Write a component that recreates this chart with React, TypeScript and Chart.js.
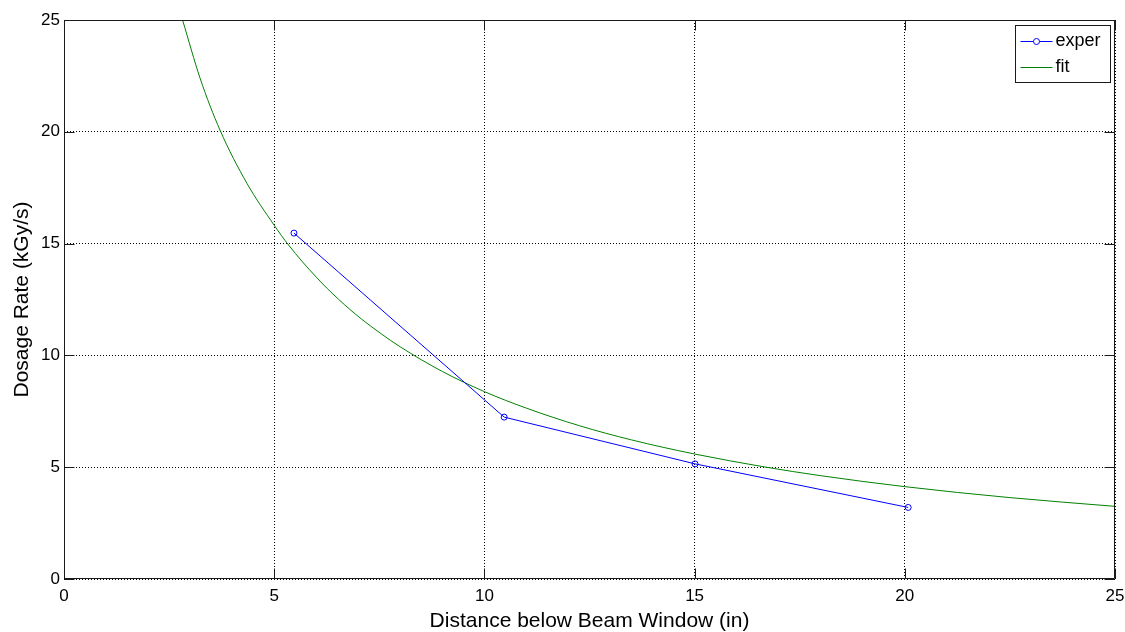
import { useEffect, useRef } from 'react';
import { Chart, registerables } from 'chart.js';

Chart.register(...registerables);

// ---- data ----
const experX = [5.47, 10.47, 15.01, 20.08];
const experY = [15.47, 7.24, 5.15, 3.2];

const fitX = [2.82, 3.24, 3.71, 4.35, 5.0, 5.34, 6.0, 6.53, 7.08, 7.52, 8.0, 9.0, 10.0, 11.0, 12.27, 13.5, 15.0, 16.67, 18.0, 20.0, 22.5, 25.0];
const fitY = [25.0, 22.38, 20.08, 17.7, 15.82, 14.94, 13.5, 12.51, 11.62, 11.0, 10.38, 9.28, 8.38, 7.64, 6.85, 6.22, 5.59, 5.01, 4.62, 4.13, 3.64, 3.25];

const xTicks = [0, 5, 10, 15, 20, 25];
const yTicks = [0, 5, 10, 15, 20, 25];
const seriesLabels = ['exper', 'fit'];
const xTitle = 'Distance below Beam Window (in)';
const yTitle = 'Dosage Rate (kGy/s)';

const FONT = "'Liberation Sans', Arial, Helvetica, sans-serif";

const matlabAxes = {
  id: 'matlabAxes',
  afterDraw(chart: any) {
    const { ctx, chartArea: a, scales } = chart;
    const L = Math.round(a.left) + 0.5;
    const R = Math.round(a.right) - 0.5;
    const T = Math.round(a.top) + 0.5;
    const B = Math.round(a.bottom) - 0.5;
    const tl = 10;
    ctx.save();
    ctx.strokeStyle = '#1a1a1a';
    ctx.lineWidth = 1;
    ctx.beginPath();
    ctx.rect(L, T, R - L, B - T);
    ctx.stroke();
    ctx.beginPath();
    scales.x.ticks.forEach((t: any) => {
      const px = Math.round(scales.x.getPixelForValue(t.value)) + 0.5;
      ctx.moveTo(px, B); ctx.lineTo(px, B - tl);
      ctx.moveTo(px, T); ctx.lineTo(px, T + tl);
    });
    scales.y.ticks.forEach((t: any) => {
      const py = Math.round(scales.y.getPixelForValue(t.value)) + 0.5;
      ctx.moveTo(L, py); ctx.lineTo(L + tl, py);
      ctx.moveTo(R, py); ctx.lineTo(R - tl, py);
    });
    ctx.stroke();

    // legend box (MATLAB style, inside top-right)
    const boxR = Math.round(a.right) - 4.5;
    const boxW = 95;
    const boxL = boxR - boxW;
    const boxT = Math.round(a.top) + 5.5;
    const boxH = 57;
    ctx.fillStyle = '#fff';
    ctx.fillRect(boxL, boxT, boxW, boxH);
    ctx.strokeStyle = '#1a1a1a';
    ctx.strokeRect(boxL, boxT, boxW, boxH);
    const rows = [boxT + 15, boxT + 41];
    chart.data.datasets.forEach((ds: any, i: number) => {
      const y = Math.round(rows[i]) + 0.5;
      ctx.strokeStyle = ds.borderColor;
      ctx.lineWidth = 1;
      ctx.beginPath();
      ctx.moveTo(boxL + 5, y);
      ctx.lineTo(boxL + 37, y);
      ctx.stroke();
      if (ds.pointRadius > 0) {
        ctx.beginPath();
        ctx.arc(boxL + 21, y, 3, 0, Math.PI * 2);
        ctx.fillStyle = '#fff';
        ctx.fill();
        ctx.stroke();
      }
      ctx.fillStyle = '#000';
      ctx.font = `18px ${FONT}`;
      ctx.textAlign = 'left';
      ctx.textBaseline = 'middle';
      ctx.fillText(ds.label, boxL + 40, y);
    });
    ctx.restore();
  },
};

export default function App() {
  const canvasRef = useRef<HTMLCanvasElement | null>(null);

  useEffect(() => {
    document.body.style.margin = '0';
    const canvas = canvasRef.current;
    if (!canvas) return;
    const chart = new Chart(canvas, {
      type: 'scatter',
      data: {
        datasets: [
          {
            label: seriesLabels[0],
            data: experX.map((x, i) => ({ x, y: experY[i] })),
            showLine: true,
            borderColor: '#0000ff',
            borderWidth: 1,
            pointStyle: 'circle',
            pointRadius: 3,
            pointBorderColor: '#0000ff',
            pointBackgroundColor: 'rgba(0,0,0,0)',
            pointBorderWidth: 1,
          },
          {
            label: seriesLabels[1],
            data: fitX.map((x, i) => ({ x, y: fitY[i] })),
            showLine: true,
            borderColor: '#008000',
            borderWidth: 1,
            pointRadius: 0,
            cubicInterpolationMode: 'monotone',
          },
        ],
      },
      options: {
        animation: false,
        responsive: false,
        layout: { padding: { top: 20, right: 10, left: 0, bottom: 0 } },
        plugins: {
          legend: { display: false },
          tooltip: { enabled: false },
        },
        scales: {
          x: {
            type: 'linear',
            min: 0,
            max: 25,
            afterBuildTicks: (s: any) => { s.ticks = xTicks.map((v) => ({ value: v })); },
            afterFit: (s: any) => { s.height = 53; s.paddingLeft = 0; s.paddingRight = 0; },
            grid: { color: '#000', lineWidth: 1, drawTicks: false },
            border: { display: false, dash: [1, 2] },
            ticks: { color: '#000', font: { family: FONT, size: 17 }, padding: 7, maxRotation: 0 },
            title: { display: true, text: xTitle, color: '#000', font: { family: FONT, size: 21, lineHeight: 1 }, padding: { top: 0, bottom: 0 } },
          },
          y: {
            type: 'linear',
            min: 0,
            max: 25,
            afterBuildTicks: (s: any) => { s.ticks = yTicks.map((v) => ({ value: v })); },
            afterFit: (s: any) => { s.width = 64; s.paddingTop = 0; s.paddingBottom = 0; },
            grid: { color: '#000', lineWidth: 1, drawTicks: false },
            border: { display: false, dash: [1, 2] },
            ticks: { color: '#000', font: { family: FONT, size: 17 }, padding: 4 },
            title: { display: true, text: yTitle, color: '#000', font: { family: FONT, size: 21, lineHeight: 1 }, padding: { top: 12, bottom: 0 } },
          },
        },
      },
      plugins: [matlabAxes],
    } as any);
    return () => chart.destroy();
  }, []);

  return (
    <div style={{ width: 1125, height: 632 }}>
      <canvas ref={canvasRef} width={1125} height={632} style={{ display: 'block' }} />
    </div>
  );
}
